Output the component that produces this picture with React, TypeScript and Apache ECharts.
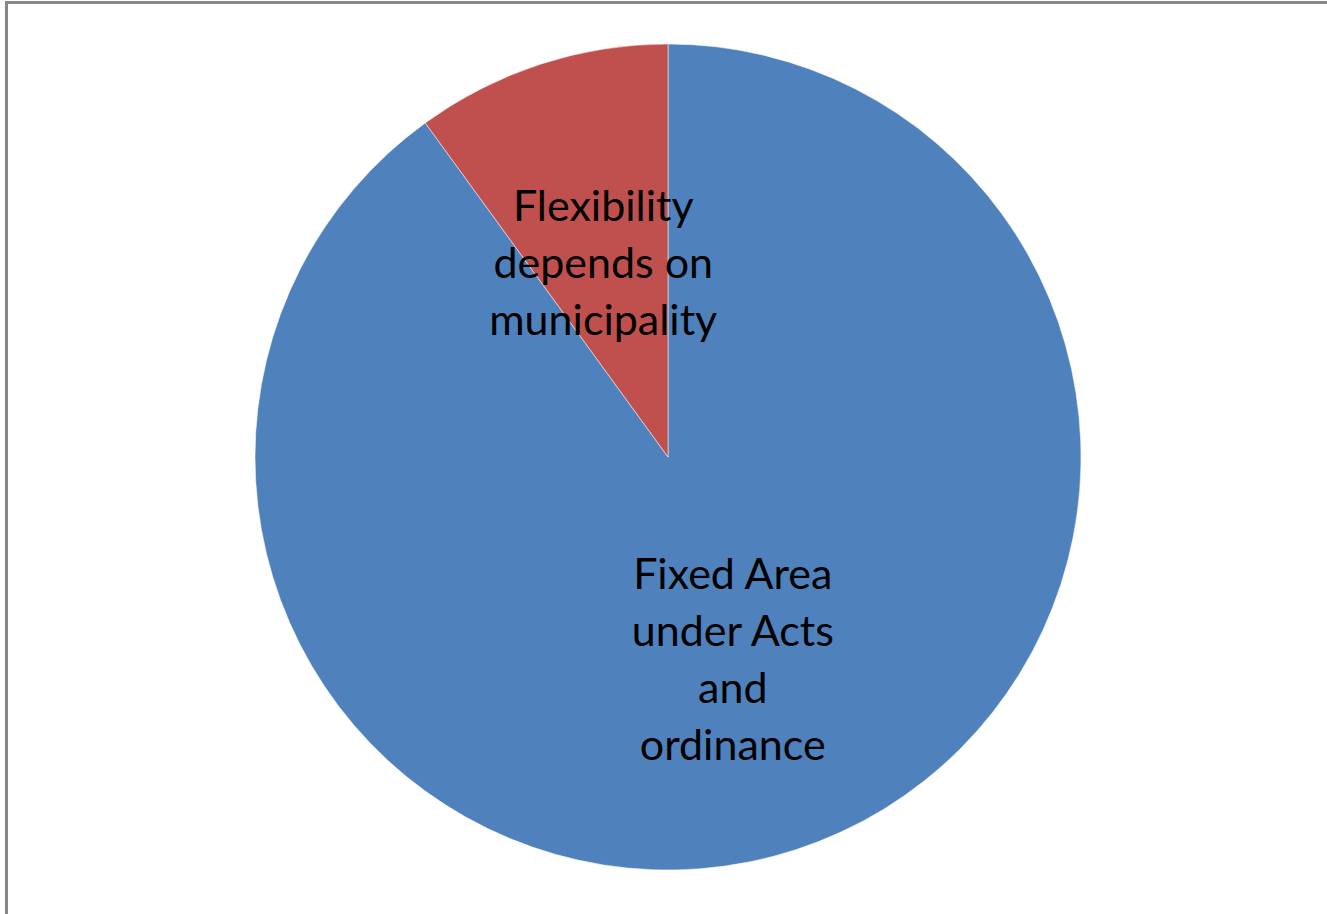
import React, { useEffect, useRef } from "react";
import * as echarts from "echarts";

const categories = ["Fixed Area\nunder Acts\nand\nordinance", "Flexibility\ndepends on\nmunicipality"];
const values = [90, 10];
const colors = ["#4F81BD", "#C0504D"];

export default function App() {
  const ref = useRef<HTMLDivElement>(null);
  useEffect(() => {
    const chart = echarts.init(ref.current!, null, { renderer: "svg" });
    chart.setOption({
      animation: false,
      backgroundColor: "#fff",
      graphic: [
        {
          type: "rect",
          shape: { x: 6.5, y: 2.5, width: 1400, height: 1000 },
          style: { fill: "none", stroke: "#888", lineWidth: 3 },
          z: 10,
        },
      ],
      series: [
        {
          type: "pie",
          center: [668, 457],
          radius: [0, 413],
          startAngle: 90,
          clockwise: true,
          data: categories.map((c, i) => ({
            name: c,
            value: values[i],
            itemStyle: { color: colors[i] },
            label: { offset: i === 0 ? [0, 2] : [0, 4] },
          })),
          itemStyle: { borderColor: "rgba(255,255,255,0.5)", borderWidth: 1 },
          label: {
            show: true,
            position: "inside",
            formatter: "{b}",
            color: "#000",
            fontFamily: "Lato",
            fontSize: 43,
            lineHeight: 57,
            align: "center",
          },
          labelLine: { show: false },
          emphasis: { disabled: true },
        },
      ],
    });
    return () => chart.dispose();
  }, []);
  return (
    <div
      ref={ref}
      style={{ position: "absolute", left: 0, top: 0, width: 1327, height: 914 }}
    />
  );
}
